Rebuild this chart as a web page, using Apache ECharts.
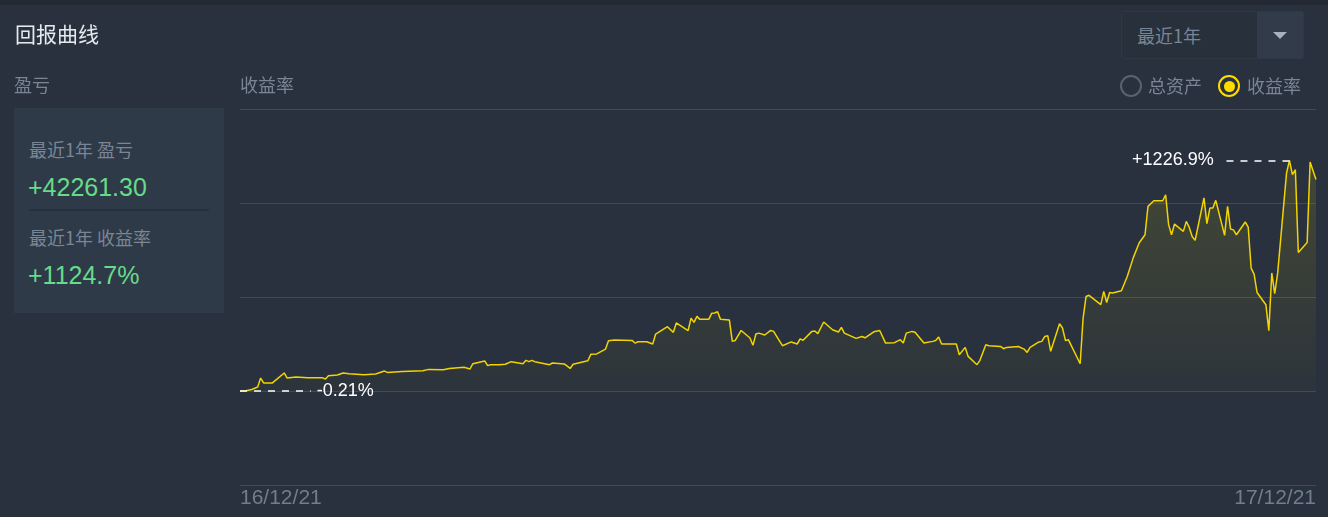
<!DOCTYPE html>
<html>
<head>
<meta charset="utf-8">
<script src="https://cdn.jsdelivr.net/npm/echarts@6/dist/echarts.min.js"></script>
<style>
  html, body { margin:0; padding:0; width:1328px; height:517px; overflow:hidden; background:#28313d; }
  body { position:relative; font-family:"Liberation Sans","Noto Sans CJK SC",sans-serif; }
  #topstrip { position:absolute; left:0; top:0; width:1328px; height:5px; background:#222932; }
  #chart { position:absolute; left:0; top:0; width:1328px; height:517px; z-index:1; }
  .t { position:absolute; white-space:nowrap; z-index:2; line-height:1; }
  #title { left:15px; top:23px; font-size:21px; color:#e6eaee; font-family:"Noto Sans CJK SC",sans-serif; }
  .lbl { font-size:18px; color:#7a8595; font-family:"Noto Sans CJK SC",sans-serif; }
  #panel { position:absolute; left:14px; top:108px; width:210px; height:205px; background:#2f3a48; z-index:2; }
  #divider { position:absolute; left:15px; top:101px; width:180px; height:2px; background:#27303b; }
  .green { color:#66db89; font-size:25px; font-family:"Liberation Sans",sans-serif; }
  #dd { position:absolute; left:1121px; top:11px; width:181px; height:46px; border:1px solid #2e3744; background:#27303b; z-index:2; border-radius:2px; }
  #ddbtn { position:absolute; right:0; top:0; width:46px; height:46px; background:#313b4a; }
  #tri { position:absolute; left:16px; top:20px; width:0; height:0; border-left:7px solid transparent; border-right:7px solid transparent; border-top:7px solid #a7b0bc; }
  .radio { position:absolute; z-index:2; width:18px; height:18px; border-radius:50%; border:2px solid #59626f; }
  .radio.on { border-color:#ffdc00; }
  .dot { position:absolute; left:3.5px; top:3.5px; width:11px; height:11px; border-radius:50%; background:#ffdc00; }
</style>
</head>
<body>
<div id="topstrip"></div>
<div id="chart"></div>
<div class="t" id="title">回报曲线</div>
<div class="t lbl" style="left:14px;top:75px;">盈亏</div>
<div class="t lbl" style="left:240px;top:75px;">收益率</div>
<div id="panel">
  <div class="t lbl" style="left:15px;top:32px;">最近1年 盈亏</div>
  <div class="t green" style="left:14px;top:67px;">+42261.30</div>
  <div id="divider"></div>
  <div class="t lbl" style="left:15px;top:120px;">最近1年 收益率</div>
  <div class="t green" style="left:14px;top:155px;">+1124.7%</div>
</div>
<div id="dd">
  <div class="t lbl" style="left:15px;top:14px;">最近1年</div>
  <div id="ddbtn"><div id="tri"></div></div>
</div>
<div class="radio" style="left:1120px;top:75px;"></div>
<div class="t lbl" style="left:1148px;top:76px;">总资产</div>
<div class="radio on" style="left:1218px;top:75px;"><div class="dot"></div></div>
<div class="t lbl" style="left:1247px;top:76px;">收益率</div>
<script>
// day offsets from 2016-12-21
const days = [0,2,4,6,7,8,11,15,16,19,23,28,29,30,33,35,37,42,46,49,50,55,62,64,69,71,76,78,79,83,84,85,88,90,92,96,97,98,99,100,105,106,110,112,113,118,119,121,124,125,127,133,134,135,138,140,141,145,147,148,152,153,154,155,156,159,160,161,162,163,166,167,168,170,173,174,175,176,178,180,181,184,187,189,190,191,194,195,196,198,201,203,204,205,209,211,212,215,217,219,222,224,225,226,228,229,232,235,236,237,238,243,244,246,247,250,251,253,254,258,259,260,264,266,267,268,271,272,273,274,275,278,279,280,281,285,286,287,288,292,293,294,295,296,299,301,303,305,307,308,310,313,314,315,316,317,320,321,322,323,324,327,328,329,330,331,334,335,336,337,338,341,342,343,344,345,348,349,350,351,352,355,356,357,358,359,362,363,365];
// return rate (%)
const returns = [-0.21,1,8,21,69,43,43,96,69,74,70,70,64,81,85,96,92,87,90,106,99,104,108,115,113,120,126,117,145,160,135,140,140,142,156,145,163,156,163,156,140,149,144,120,142,161,195,197,223,267,271,269,255,262,262,250,303,342,312,362,321,388,365,397,381,381,413,415,422,381,378,264,269,322,282,243,303,308,298,322,317,241,261,250,277,270,317,319,305,367,326,314,338,308,280,290,283,315,322,255,257,273,255,308,317,313,255,264,269,287,250,250,193,232,184,140,163,246,241,237,225,232,237,223,205,232,261,264,290,294,211,358,335,269,273,145,388,503,509,459,530,471,524,521,533,610,708,787,831,982,1012,1012,1044,885,831,888,849,902,870,822,801,1027,890,973,973,1014,828,982,862,857,831,899,872,654,622,524,459,321,628,518,628,1159,1226.9,1151,1177,737,790,1218,1124.7];
const xTickLabels = ['16/12/21', '17/12/21'];
const totalDays = 365;

const seriesData = days.map((d, i) => [d, returns[i]]);
let minI = 0, maxI = 0;
returns.forEach((v, i) => { if (v < returns[minI]) minI = i; if (v > returns[maxI]) maxI = i; });
const fmt = v => (v > 0 ? '+' : '') + v.toFixed(Math.abs(v) < 1 ? 2 : 1) + '%';

const chart = echarts.init(document.getElementById('chart'));
chart.setOption({
  backgroundColor: 'transparent',
  animation: false,
  grid: { left: 240, right: 12, top: 109, bottom: 32 },
  xAxis: {
    type: 'value', min: 0, max: totalDays, interval: totalDays,
    axisLine: { show: false }, axisTick: { show: false }, splitLine: { show: false },
    axisLabel: {
      color: '#717e8e', fontSize: 21, fontFamily: 'Liberation Sans, sans-serif',
      margin: 3, showMinLabel: true, showMaxLabel: true,
      alignMinLabel: 'left', alignMaxLabel: 'right',
      formatter: v => v === 0 ? xTickLabels[0] : (v === totalDays ? xTickLabels[1] : '')
    }
  },
  yAxis: {
    type: 'value', min: -500, max: 1500, interval: 500,
    axisLine: { show: false }, axisTick: { show: false }, axisLabel: { show: false },
    splitLine: { show: true, lineStyle: { color: '#414a57', width: 1 } }
  },
  series: [{
    type: 'line',
    data: seriesData,
    symbol: 'none',
    lineStyle: { color: '#f2d400', width: 1.5 },
    areaStyle: {
      color: new echarts.graphic.LinearGradient(0, 0, 0, 1, [
        { offset: 0, color: 'rgba(242,212,0,0.20)' },
        { offset: 1, color: 'rgba(242,212,0,0.03)' }
      ])
    },
    markLine: {
      silent: true, symbol: ['none', 'none'], animation: false,
      lineStyle: { color: '#ffffff', type: [7, 7], width: 1.5 },
      label: { show: true, position: 'end', color: '#ffffff', fontSize: 18,
               fontFamily: 'Liberation Sans, sans-serif' },
      data: [
        [ { coord: [days[minI], returns[minI]], label: { formatter: fmt(returns[minI]), distance: 6 } },
          { coord: [days[minI] + 24, returns[minI]] } ],
        [ { coord: [days[maxI], returns[maxI]], label: { formatter: fmt(returns[maxI]), distance: 8 } },
          { coord: [days[maxI] - 23, returns[maxI]] } ]
      ]
    }
  }]
});
</script>
</body>
</html>
